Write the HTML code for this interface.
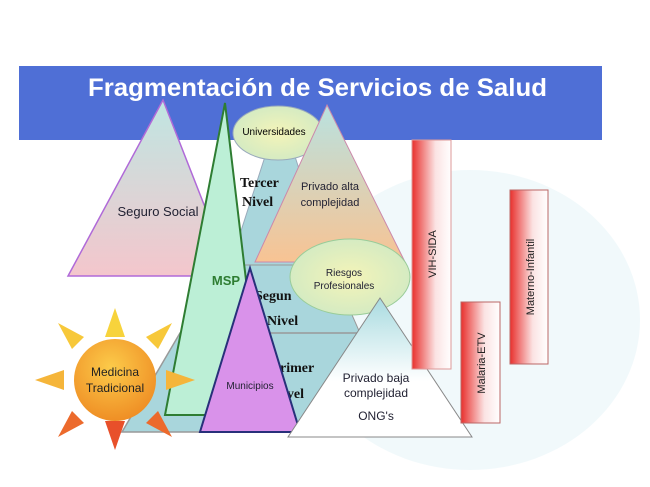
<!DOCTYPE html>
<html><head><meta charset="utf-8"><style>
html,body{margin:0;padding:0;background:#fff;}
svg{display:block}
</style></head><body>
<svg width="650" height="487" viewBox="0 0 650 487" xmlns="http://www.w3.org/2000/svg" font-family="Liberation Sans, sans-serif">
<defs>
<linearGradient id="ss" x1="0" y1="0" x2="0" y2="1"><stop offset="0" stop-color="#bfe6e2"/><stop offset="1" stop-color="#f4c6cc"/></linearGradient>
<linearGradient id="pa" x1="0" y1="0" x2="0" y2="1"><stop offset="0" stop-color="#b9e2e0"/><stop offset="1" stop-color="#f8c393"/></linearGradient>
<linearGradient id="pb" x1="0" y1="0" x2="0" y2="1"><stop offset="0" stop-color="#a9dbe0"/><stop offset="0.6" stop-color="#fff"/></linearGradient>
<linearGradient id="bar" x1="0" y1="0" x2="1" y2="0"><stop offset="0" stop-color="#e8302d"/><stop offset="0.6" stop-color="#fbe3e3"/><stop offset="1" stop-color="#fff"/></linearGradient>
<radialGradient id="sun" cx="0.45" cy="0.35" r="0.7"><stop offset="0" stop-color="#fccb4a"/><stop offset="1" stop-color="#ee8a22"/></radialGradient>
<radialGradient id="el" cx="0.5" cy="0.5" r="0.6"><stop offset="0" stop-color="#f4f4b8"/><stop offset="1" stop-color="#cfe9c4"/></radialGradient>
</defs>
<ellipse cx="470" cy="320" rx="170" ry="150" fill="#eef7fa" opacity="0.8"/>
<rect x="19" y="66" width="583" height="74" fill="#4f6fd6"/>
<text x="88" y="96" textLength="459" lengthAdjust="spacingAndGlyphs" font-size="25" font-weight="bold" fill="#fff">Fragmentación de Servicios de Salud</text>
<polygon points="280,110 330,265 230,265" fill="#a9d6dc" stroke="#9ab" stroke-width="1"/>
<polygon points="230,265 330,265 360,333 180,333" fill="#a9d6dc" stroke="#999" stroke-width="1"/>
<polygon points="180,333 360,333 400,432 122,432" fill="#a9d6dc" stroke="#999" stroke-width="1.5"/>
<g font-family="Liberation Serif, serif" font-weight="bold" font-size="14" fill="#111">
<text x="240" y="187">Tercer</text>
<text x="242" y="206">Nivel</text>
<text x="255" y="300">Segun</text>
<text x="267" y="325">Nivel</text>
<text x="280" y="372">rimer</text>
<text x="283" y="398">ivel</text>
</g>
<ellipse cx="278" cy="133" rx="45" ry="27" fill="url(#el)" stroke="#9ab" stroke-width="1"/>
<text x="274" y="135" text-anchor="middle" font-size="10">Universidades</text>
<polygon points="327,105 405,262 255,262" fill="url(#pa)" stroke="#c8a" stroke-width="1"/>
<text x="330" y="190" text-anchor="middle" font-size="11" fill="#223">Privado alta</text>
<text x="330" y="206" text-anchor="middle" font-size="11" fill="#223">complejidad</text>
<polygon points="163,100 232,276 68,276" fill="url(#ss)" stroke="#b06ad8" stroke-width="1.5"/>
<text x="158" y="216" text-anchor="middle" font-size="13" fill="#223">Seguro Social</text>
<polygon points="225,103 262,415 165,415" fill="#bcefd6" stroke="#2e7d32" stroke-width="2"/>
<text x="226" y="285" text-anchor="middle" font-size="13" font-weight="bold" fill="#2e7d32">MSP</text>
<ellipse cx="350" cy="277" rx="60" ry="38" fill="url(#el)" stroke="#9c9" stroke-width="1"/>
<text x="344" y="276" text-anchor="middle" font-size="10" fill="#223">Riesgos</text>
<text x="344" y="289" text-anchor="middle" font-size="10" fill="#223">Profesionales</text>
<polygon points="250,268 300,432 200,432" fill="#d992ea" stroke="#28307a" stroke-width="2"/>
<text x="250" y="389" text-anchor="middle" font-size="10" fill="#223">Municipios</text>
<polygon points="380,298 472,437 288,437" fill="url(#pb)" stroke="#888" stroke-width="1"/>
<text x="376" y="382" text-anchor="middle" font-size="12" fill="#223">Privado baja</text>
<text x="376" y="397" text-anchor="middle" font-size="12" fill="#223">complejidad</text>
<text x="376" y="420" text-anchor="middle" font-size="12" fill="#223">ONG's</text>
<g>
<polygon points="115,308 105,337 125,337" fill="#f7d33c"/>
<polygon points="115,450 105,421 125,421" fill="#e8502a"/>
<polygon points="35,380 64,370 64,390" fill="#f5b53a"/>
<polygon points="195,380 166,370 166,390" fill="#f5b53a"/>
<polygon points="58,323 72,349 84,337" fill="#f7c83a"/>
<polygon points="172,323 146,337 158,349" fill="#f7c83a"/>
<polygon points="58,437 84,423 72,411" fill="#ec6a2c"/>
<polygon points="172,437 158,411 146,423" fill="#ec6a2c"/>
<circle cx="115" cy="380" r="41" fill="url(#sun)"/>
<text x="115" y="376" text-anchor="middle" font-size="12" fill="#222">Medicina</text>
<text x="115" y="392" text-anchor="middle" font-size="12" fill="#222">Tradicional</text>
</g>
<rect x="412" y="140" width="39" height="229" fill="url(#bar)" stroke="#d99" stroke-width="1"/>
<text transform="translate(436,254) rotate(-90)" text-anchor="middle" font-size="11" fill="#222">VIH-SIDA</text>
<rect x="461" y="302" width="39" height="121" fill="url(#bar)" stroke="#b66" stroke-width="1"/>
<text transform="translate(485,363) rotate(-90)" text-anchor="middle" font-size="11" fill="#222">Malaria-ETV</text>
<rect x="510" y="190" width="38" height="174" fill="url(#bar)" stroke="#b66" stroke-width="1"/>
<text transform="translate(534,277) rotate(-90)" text-anchor="middle" font-size="11" fill="#222">Materno-Infantil</text>
</svg>
</body></html>
